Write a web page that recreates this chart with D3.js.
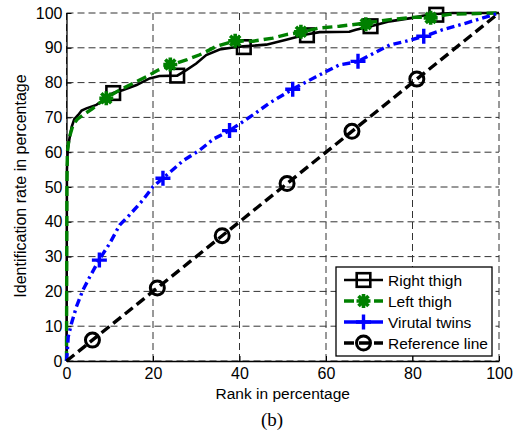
<!DOCTYPE html>
<html lang="en">
<head>
    <meta charset="UTF-8">
    <script src="https://d3js.org/d3.v7.min.js"></script>
    <style>
        body {
            margin: 0;
            background: #fff;
            font-family: Arial, "Liberation Sans", sans-serif;
        }
        .axis text {
            font-size: 16px;
            fill: #000;
        }
        .axis path, .axis line {
            stroke: #000;
        }
    </style>
</head>
<body>
    <div id="chart"></div>
    <script>
        // tick labels
        const xTicks = [0, 20, 40, 60, 80, 100];
        const yTicks = [0, 10, 20, 30, 40, 50, 60, 70, 80, 90, 100];

        // curves: [rank %, identification rate %]
        const rightThigh = [
            [0, 0], [0.1, 55], [0.3, 61], [0.7, 64], [1.2, 67.3], [1.8, 69.5], [2.7, 70.7],
            [3.5, 72], [4.6, 72.6], [6.9, 73.6], [8, 74.5], [9.2, 76], [10.8, 77], [13.1, 77.9],
            [16.2, 79.3], [19.2, 81.2], [21.5, 81.9], [25.6, 82], [27.7, 83.6], [30, 85.5],
            [32.3, 87.9], [35.4, 89.5], [38.5, 90.1], [40.8, 90.4], [46.2, 90.9], [50.8, 92.3],
            [53.9, 93.3], [55.4, 93.8], [58.5, 94.5], [65.4, 94.6], [66.9, 95.2], [70.4, 96.2],
            [74.7, 97.6], [80, 98.6], [82.4, 99.2], [85.4, 99.7], [89.2, 100], [100, 100]
        ];
        const leftThigh = [
            [0, 0], [0.1, 50], [0.2, 60], [0.6, 64], [1.5, 67.8], [2.5, 69.5], [3.8, 70.7],
            [6.1, 72.6], [7.5, 74], [9.2, 75.5], [11.5, 77.3], [13.8, 78.8], [16, 80.2],
            [18.5, 81.7], [21, 83.5], [23.8, 85], [27.7, 86.5], [30.8, 88], [32.3, 88.9],
            [34.6, 90.4], [38.9, 92], [43.1, 91.9], [47.7, 92.8], [50.8, 93.8], [54.3, 94.5],
            [58.5, 95.7], [63.1, 96.2], [69.2, 97.1], [74.7, 98.1], [80.8, 98.8], [83.9, 98.8],
            [88.5, 99.6], [99.2, 100], [100, 100]
        ];
        const virtualTwins = [
            [0, 0], [0.2, 3], [0.4, 7], [1.15, 10.8], [2.3, 15.6], [3.8, 20.4], [5.4, 24.2],
            [7.5, 29], [10, 33.8], [12.3, 39.1], [14.6, 42], [17.7, 46.3], [20, 50.1],
            [22.3, 52.5], [26.9, 57.5], [30.8, 60.6], [34, 63.8], [37.7, 66.2], [43.1, 70.7],
            [46.9, 74.1], [52.3, 78.1], [57.7, 81.7], [63.1, 85.1], [67.3, 86], [74.7, 90.8],
            [78.5, 91.9], [82.7, 93.3], [87, 95.2], [92.4, 97.1], [100, 100]
        ];
        const referenceLine = [[0, 0], [100, 100]];

        // marker positions
        const rightMarks = [[10.8, 77], [25.6, 82], [41, 90.2], [55.6, 93.6], [70.3, 96.2], [85.5, 99.5]];
        const leftMarks = [[9.2, 75.5], [24, 85.2], [39, 92], [54.2, 94.6], [69.2, 96.8], [84.2, 98.6]];
        const twinMarks = [[7.6, 29], [22.3, 52.5], [37.7, 66.2], [52.3, 78.1], [67.4, 86.1], [82.6, 93.3]];
        const refMarks = [[6, 6], [21, 21], [36, 36], [51, 51], [66, 66], [81, 81]];

        const labels = ["Right thigh", "Left thigh", "Virutal twins", "Reference line"];

        const width = 517, height = 434;
        const margin = { top: 13, right: 18, bottom: 73, left: 66.5 };

        const x = d3.scaleLinear().domain([0, 100]).range([margin.left, width - margin.right]);
        const y = d3.scaleLinear().domain([0, 100]).range([height - margin.bottom, margin.top]);

        const svg = d3.select("#chart").append("svg")
            .attr("width", width)
            .attr("height", height);

        // grid
        const grid = svg.append("g")
            .attr("stroke", "#333")
            .attr("stroke-width", 1)
            .attr("stroke-dasharray", "7,4");
        grid.selectAll(".gx").data(xTicks).enter().append("line")
            .attr("x1", d => x(d)).attr("x2", d => x(d))
            .attr("y1", y(0)).attr("y2", y(100));
        grid.selectAll(".gy").data(yTicks).enter().append("line")
            .attr("x1", x(0)).attr("x2", x(100))
            .attr("y1", d => y(d)).attr("y2", d => y(d));

        // axes (ticks pointing in)
        svg.append("g")
            .attr("class", "axis")
            .attr("transform", `translate(0,${y(0)})`)
            .call(d3.axisBottom(x).tickValues(xTicks).tickSizeInner(-5).tickSizeOuter(0).tickPadding(7))
            .call(g => g.select(".domain").attr("stroke-width", 1.3))
            .selectAll("text").attr("font-family", "Arial, 'Liberation Sans', sans-serif");

        svg.append("g")
            .attr("class", "axis")
            .attr("transform", `translate(${x(0)},0)`)
            .call(d3.axisLeft(y).tickValues(yTicks).tickSizeInner(-5).tickSizeOuter(0).tickPadding(4))
            .call(g => g.select(".domain").attr("stroke-width", 1.3))
            .selectAll("text").attr("font-family", "Arial, 'Liberation Sans', sans-serif");

        const line = d3.line().x(d => x(d[0])).y(d => y(d[1]));

        const series = [
            { data: rightThigh, marks: rightMarks, color: "#000", width: 2.6, dash: null, marker: "square" },
            { data: leftThigh, marks: leftMarks, color: "#008000", width: 3.4, dash: "10,5", marker: "star" },
            { data: virtualTwins, marks: twinMarks, color: "#0000ff", width: 3.4, dash: "8,4,2.5,4", marker: "plus" },
            { data: referenceLine, marks: refMarks, color: "#000", width: 3.4, dash: "10,5", marker: "circle" }
        ];

        function drawMarker(g, type, color) {
            if (type === "square") {
                g.append("rect").attr("x", -6.8).attr("y", -6.8).attr("width", 13.6).attr("height", 13.6)
                    .attr("fill", "none").attr("stroke", color).attr("stroke-width", 2.6);
            } else if (type === "circle") {
                g.append("circle").attr("r", 7)
                    .attr("fill", "none").attr("stroke", color).attr("stroke-width", 3);
            } else if (type === "plus") {
                g.append("path").attr("d", "M-7.5,0H7.5M0,-7.5V7.5")
                    .attr("stroke", color).attr("stroke-width", 3.4);
            } else if (type === "star") {
                g.append("path").attr("d", "M-7,0H7M0,-7V7M-5,-5L5,5M-5,5L5,-5")
                    .attr("stroke", color).attr("stroke-width", 3.6);
                g.append("circle").attr("r", 4.5).attr("fill", color);
            }
        }

        series.forEach(s => {
            svg.append("path")
                .datum(s.data)
                .attr("d", line)
                .attr("fill", "none")
                .attr("stroke", s.color)
                .attr("stroke-width", s.width)
                .attr("stroke-dasharray", s.dash);
            s.marks.forEach(m => {
                const g = svg.append("g").attr("transform", `translate(${x(m[0])},${y(m[1])})`);
                drawMarker(g, s.marker, s.color);
            });
        });

        // legend
        const legend = svg.append("g").attr("transform", "translate(336,267)");
        legend.append("rect")
            .attr("width", 156).attr("height", 89)
            .attr("fill", "#fff").attr("stroke", "#000").attr("stroke-width", 1.3);
        series.forEach((s, i) => {
            const row = legend.append("g").attr("transform", `translate(0,${13 + i * 21})`);
            row.append("line")
                .attr("x1", 8).attr("x2", 47)
                .attr("stroke", s.color)
                .attr("stroke-width", s.width)
                .attr("stroke-dasharray", s.marker === "plus" ? null : s.dash);
            drawMarker(row.append("g").attr("transform", "translate(27.5,0)"), s.marker, s.color);
            row.append("text")
                .attr("x", 52).attr("y", 5.5)
                .attr("font-size", "15.5px")
                .text(labels[i]);
        });

        // axis labels
        svg.append("text")
            .attr("x", (x(0) + x(100)) / 2)
            .attr("y", 399)
            .attr("text-anchor", "middle")
            .attr("font-size", "15.5px")
            .text("Rank in percentage");

        svg.append("text")
            .attr("transform", `translate(26,186) rotate(-90)`)
            .attr("text-anchor", "middle")
            .attr("font-size", "16px")
            .text("Identification rate in percentage");

        svg.append("text")
            .attr("x", 272)
            .attr("y", 426)
            .attr("text-anchor", "middle")
            .attr("font-family", "'Times New Roman', 'Liberation Serif', serif")
            .attr("font-size", "19px")
            .text("(b)");
    </script>
</body>
</html>
